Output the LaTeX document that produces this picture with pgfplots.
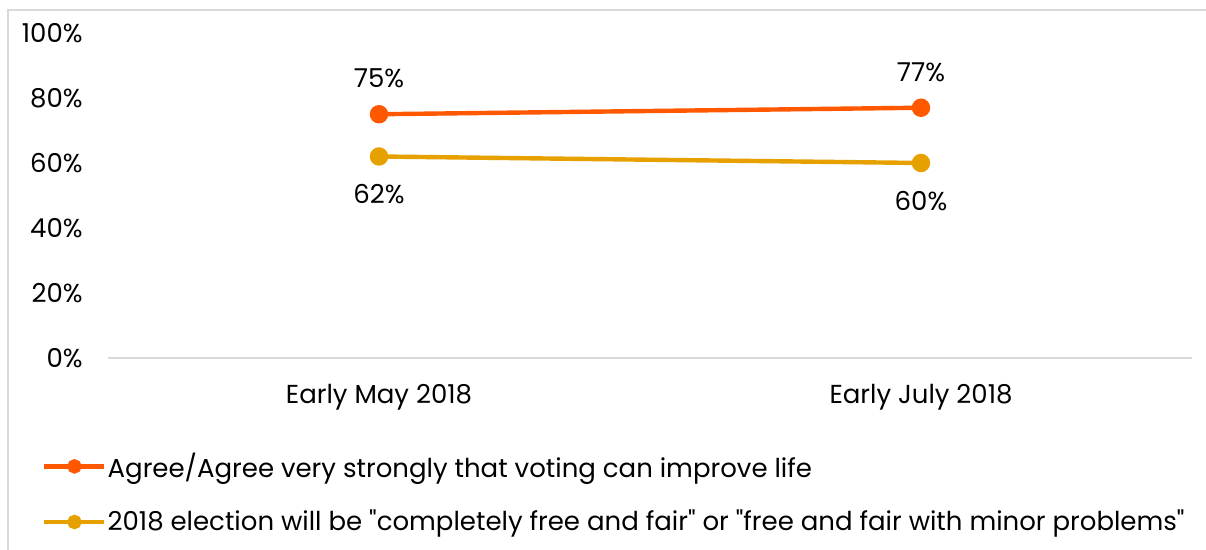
\documentclass[border=0pt]{standalone}
\usepackage{fontspec}
\setmainfont{Poppins}
\usepackage{pgfplots}
\pgfplotsset{compat=1.18}

\definecolor{voteorange}{RGB}{255,88,0}
\definecolor{votegold}{RGB}{230,160,0}
\definecolor{framegray}{RGB}{217,217,217}

\begin{document}
\begin{tikzpicture}[font=\fontsize{13}{15}\selectfont]
\useasboundingbox (0,0) rectangle (603pt,275pt);
% outer chart frame (only left and top visible)
\draw[framegray, line width=0.8pt] (4pt,0pt) -- (4pt,270pt) -- (603pt,270pt);

\begin{axis}[
    at={(54pt,96pt)}, anchor=south west,
    scale only axis,
    width=542pt, height=162.5pt,
    xmin=-0.5, xmax=1.5,
    ymin=0, ymax=100,
    xtick={0,1},
    xticklabels={Early May 2018, Early July 2018},
    ytick={0,20,40,60,80,100},
    yticklabel={\pgfmathprintnumber{\tick}\%},
    /pgf/number format/assume math mode=true,
    axis x line*=bottom,
    axis y line*=left,
    x axis line style={framegray, line width=0.8pt, -},
    y axis line style={draw=none},
    major tick length=0pt,
    yticklabel style={anchor=east, inner sep=0pt, xshift=-12.5pt},
    xticklabel style={anchor=north, inner sep=0pt, yshift=-13pt},
    clip=false,
    nodes near coords={\pgfmathprintnumber{\pgfplotspointmeta}\%},
    legend cell align=left,
    legend style={
        at={(-0.061,-0.29)}, anchor=north west,
        draw=none, fill=none, inner sep=0pt,
        row sep=15pt, column sep=0pt,
        nodes={inner xsep=0.5pt, inner ysep=0pt},
    },
    legend image code/.code={
        \draw[#1, mark size=2.5pt, mark repeat=2, mark phase=2]
            plot coordinates {(0pt,0pt) (15pt,0pt) (30pt,0pt)};
    },
]

% Agree voting can improve life
\addplot[voteorange, line width=2.2pt, mark=*, mark size=3.5pt,
    every node near coord/.append style={black, anchor=south, inner sep=0pt, yshift=12pt}]
    coordinates {(0,75) (1,77)};

% election free and fair
\addplot[votegold, line width=2.2pt, mark=*, mark size=3.5pt,
    every node near coord/.append style={black, anchor=north, inner sep=0pt, yshift=-13pt}]
    coordinates {(0,62) (1,60)};

\legend{Agree/Agree very strongly that voting can improve life,
        2018 election will be \textquotedbl completely free and fair\textquotedbl{} or \textquotedbl free and fair with minor problems\textquotedbl}
\end{axis}
\end{tikzpicture}
\end{document}
